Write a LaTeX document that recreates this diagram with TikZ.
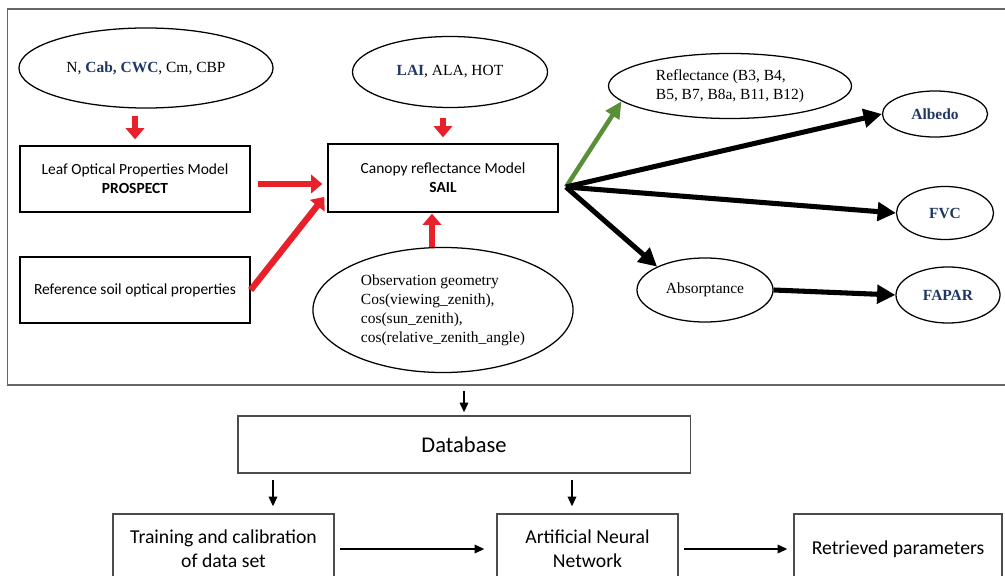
\documentclass[tikz,border=0pt]{standalone}
\usepackage{fontspec}
\setmainfont{Liberation Serif}
\newfontfamily\calibri{Carlito}
\usetikzlibrary{shapes,arrows.meta}
\usetikzlibrary{positioning}
\usetikzlibrary{calc}
\definecolor{arrred}{HTML}{E8202A}
\definecolor{arrgreen}{HTML}{5A8F3A}
\definecolor{navy}{HTML}{1F3763}

\begin{document}
\begin{tikzpicture}[x=0.025cm,y=-0.025cm]
 \clip (0,0) rectangle (1005,576);
 \tikzstyle{blk} = [draw, rectangle, line width=0.9pt, align=center, font=\calibri\fontsize{11}{13.5}\selectfont];
 \tikzstyle{oval} = [draw, ellipse, line width=0.9pt, inner sep=1pt, align=left, font=\fontsize{11}{13.5}\selectfont];
 \tikzstyle{res} = [oval, text=navy, font=\bfseries\fontsize{11}{13.5}\selectfont];
 \tikzstyle{low} = [draw=black!70, rectangle, line width=0.8pt, align=center, font=\calibri\fontsize{14}{17}\selectfont];

 \node (frame) [draw=black!60, line width=0.8pt, minimum width=25.175cm, minimum height=9.4cm] at (511.5,197) {};

 \node (inN) [oval, minimum width=6.35cm, minimum height=2cm] at (146,68) {N, \textcolor{navy}{\textbf{Cab, CWC}}, Cm, CBP};
 \node (leaf) [blk, minimum width=5.75cm, minimum height=1.65cm] at (135,179) {Leaf Optical Properties Model\\\textbf{PROSPECT}};
 \node (soil) [blk, minimum width=5.75cm, minimum height=1.65cm] at (135,290) {Reference soil optical properties};
 \node (lai) [oval, minimum width=4.875cm, minimum height=1.775cm] at (450,72) {\textcolor{navy}{\textbf{LAI}}, ALA, HOT};
 \node (canopy) [blk, minimum width=5.75cm, minimum height=1.7cm] at (443,178) {Canopy reflectance Model\\\textbf{SAIL}};
 \node (obs) [oval, minimum width=6.5cm, minimum height=3.125cm] at (443,310) {Observation geometry\\Cos(viewing\_zenith),\\cos(sun\_zenith),\\cos(relative\_zenith\_angle)};
 \node (refl) [oval, minimum width=6.075cm, minimum height=1.625cm] at (730,86) {Reflectance (B3, B4,\\B5, B7, B8a, B11, B12)};
 \node (absorp) [oval, minimum width=3.4cm, minimum height=1.6cm] at (705,290) {Absorptance};
 \node (albedo) [res, minimum width=2.625cm, minimum height=1.15cm] at (935,114) {Albedo};
 \node (fvc) [res, minimum width=2.425cm, minimum height=1.325cm] at (945,213) {FVC};
 \node (fapar) [res, minimum width=2.6cm, minimum height=1.4cm] at (948,295) {FAPAR};

 \node (db) [low, font=\calibri\fontsize{16}{19}\selectfont, minimum width=11.3cm, minimum height=1.425cm] at (464,444.5) {Database};
 \node (train) [low, minimum width=5.525cm, minimum height=1.75cm] at (223.5,549) {Training and calibration\\of data set};
 \node (ann) [low, minimum width=4.525cm, minimum height=1.75cm] at (587.5,549) {Artificial Neural\\Network};
 \node (ret) [low, minimum width=5.2cm, minimum height=1.75cm] at (898,549) {Retrieved parameters};

 \coordinate (fork) at (566,187);
 \coordinate (lt) at (273,0);
 \coordinate (rt) at (572,0);

 \tikzstyle{R} = [color=arrred, line width=4.5pt, -{Triangle[length=8pt,width=13pt]}]
 \tikzstyle{G} = [color=arrgreen, line width=3.2pt, -{Triangle[length=12pt,width=11pt]}]
 \tikzstyle{K} = [color=black, line width=3.6pt, -{Triangle[length=13pt,width=13pt]}]
 \tikzstyle{T} = [color=black, line width=1.4pt, -{Triangle[length=7pt,width=6pt]}]

 \draw [R, shorten <=0.175cm, shorten >=0.15cm] (inN.south -| leaf.north) -- (leaf.north);
 \draw [R, shorten <=0.25cm, shorten >=0.15cm] (lai.south -| canopy.north) -- (canopy.north);
 \draw [R, shorten <=0.175cm, shorten >=0.125cm] ([yshift=-0.125cm]leaf.east) -- ([yshift=-0.125cm]leaf.east -| canopy.west);
 \draw [R, shorten >=0.125cm] (soil.east) -- ([yshift=-0.375cm]canopy.west);
 \draw [R, shorten >=0.025cm] ([xshift=-0.275cm]obs.north) -- ([xshift=-0.275cm]canopy.south);

 \draw [G] (fork) -- (refl.188);
 \draw [K] (fork) -- (albedo.west);
 \draw [K] (fork) -- (fvc.west);
 \draw [K] (fork) -- (absorp.154);
 \draw [K] (absorp.east) -- (fapar.west);

 \draw [T, shorten <=0.125cm, shorten >=0.075cm] (frame.south -| db.north) -- (db.north);
 \draw [T, shorten <=0.15cm, shorten >=0.175cm] (db.south -| lt) -- (train.north -| lt);
 \draw [T, shorten <=0.15cm, shorten >=0.175cm] (db.south -| rt) -- (ann.north -| rt);
 \draw [T, shorten <=0.125cm, shorten >=0.3cm] (train) -- (ann);
 \draw [T, shorten <=0.125cm, shorten >=0.15cm] (ann) -- (ret);

\end{tikzpicture}
\end{document}
